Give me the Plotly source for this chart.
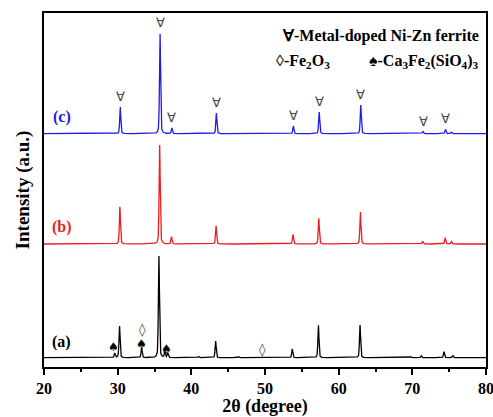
import numpy as np
import plotly.graph_objects as go

# Peak positions (2θ, degree) and heights (arbitrary units)
pos_c = [30.35, 35.75, 37.35, 43.4, 53.85, 57.35, 63.0, 71.45, 74.5, 75.3]
hgt_c = [27, 100.7, 5.7, 20.7, 7.7, 22, 28.7, 2.2, 4.4, 1.5]

pos_b = [30.3, 35.7, 37.3, 43.35, 53.8, 57.3, 62.95, 71.4, 74.45, 75.3]
hgt_b = [37.3, 99, 7.3, 18.3, 9.7, 25.7, 32.3, 2.8, 6.3, 2.5]

pos_a = [29.6, 30.25, 33.25, 35.6, 36.4, 36.8, 41.0, 43.3, 46.5, 53.7, 57.25, 62.9, 69.8, 71.2, 74.3, 75.5]
hgt_a = [4.5, 32, 11, 101.7, 6, 5, 1.2, 16.7, 0.8, 8.7, 32.7, 32.7, 1, 2, 6, 2]

# Ferrite marker positions on pattern (c)
ferrite_x = pos_c[:9]
ferrite_y = hgt_c[:9]

# Secondary phase markers on pattern (a)
spade_x = [29.5, 33.3, 36.6]
spade_y = [20.3, 23.5, 17.7]
diamond_x = [33.4, 49.7]
diamond_y = [37.5, 17.0]

x = np.linspace(20, 80, 3001)

def pattern(pos, hgt, w=0.17):
    y = np.zeros_like(x)
    for p, h in zip(pos, hgt):
        g = np.exp(-4 * np.log(2) * ((x - p) / w) ** 2)
        l = 1 / (1 + 4 * ((x - p) / w) ** 2)
        y += h * (0.6 * g + 0.4 * l)
    return y

off_a, off_b, off_c = 9.3, 123.0, 233.3
FONT = "Liberation Serif"

fig = go.Figure()
fig.add_trace(go.Scatter(x=x, y=pattern(pos_a, hgt_a) + off_a, mode="lines",
                         line=dict(color="black", width=1.3), showlegend=False))
fig.add_trace(go.Scatter(x=x, y=pattern(pos_b, hgt_b) + off_b, mode="lines",
                         line=dict(color="#ee1c1c", width=1.3), showlegend=False))
fig.add_trace(go.Scatter(x=x, y=pattern(pos_c, hgt_c) + off_c, mode="lines",
                         line=dict(color="#1c1cee", width=1.3), showlegend=False))

ann = []
for px, py in zip(ferrite_x, ferrite_y):
    ann.append(dict(x=px, y=py + off_c + 1, text="∀", showarrow=False, yanchor="bottom",
                    font=dict(family="DejaVu Sans", size=13, color="#444444")))
for px, py in zip(spade_x, spade_y):
    ann.append(dict(x=px, y=py, text="♠", showarrow=False,
                    font=dict(family="DejaVu Sans", size=12, color="black")))
for px, py in zip(diamond_x, diamond_y):
    ann.append(dict(x=px, y=py, text="◊", showarrow=False,
                    font=dict(family="DejaVu Sans", size=13, color="#444444")))

labels = [("(c)", "#1c1cee", 250), ("(b)", "#ee1c1c", 140), ("(a)", "black", 25.3)]
for t, c, yy in labels:
    ann.append(dict(x=22.4, y=yy, text="<b>%s</b>" % t, showarrow=False,
                    font=dict(family=FONT, size=16, color=c)))

ann.append(dict(xref="paper", yref="paper", x=0.989, y=0.966, xanchor="right", showarrow=False,
                text="<b>∀-Metal-doped Ni-Zn ferrite</b>",
                font=dict(family=FONT, size=16, color="black")))
ann.append(dict(xref="paper", yref="paper", x=0.52, y=0.895, xanchor="left", showarrow=False,
                text="<b>◊-Fe<sub>2</sub>O<sub>3</sub></b>",
                font=dict(family=FONT, size=16, color="black")))
ann.append(dict(xref="paper", yref="paper", x=0.989, y=0.895, xanchor="right", showarrow=False,
                text="<b>♠-Ca<sub>3</sub>Fe<sub>2</sub>(SiO<sub>4</sub>)<sub>3</sub></b>",
                font=dict(family=FONT, size=16, color="black")))

fig.update_layout(
    width=493, height=417,
    margin=dict(l=44, r=7, t=13, b=50),
    paper_bgcolor="white", plot_bgcolor="white",
    annotations=ann,
    font=dict(family=FONT, color="black"),
    xaxis=dict(range=[20, 80], tickvals=[20, 30, 40, 50, 60, 70, 80], automargin=False,
               ticklabeloverflow="allow",
               ticks="outside", ticklen=6, tickwidth=1.5, tickcolor="black",
               minor=dict(dtick=5, ticks="outside", ticklen=3, tickwidth=1.5, tickcolor="black"),
               showline=True, linecolor="black", linewidth=1.5, mirror=True,
               showgrid=False, zeroline=False,
               tickfont=dict(family=FONT, size=16, color="black", weight="bold"),
               title=dict(text="<b>2θ (degree)</b>", standoff=2,
                          font=dict(family=FONT, size=18, color="black"))),
    yaxis=dict(range=[0, 354], showticklabels=False, ticks="", automargin=False,
               showline=True, linecolor="black", linewidth=1.5, mirror=True,
               showgrid=False, zeroline=False,
               title=dict(text="<b>Intensity (a.u.)</b>", standoff=8,
                          font=dict(family=FONT, size=19, color="black"))),
)
fig.write_html("out.html")
